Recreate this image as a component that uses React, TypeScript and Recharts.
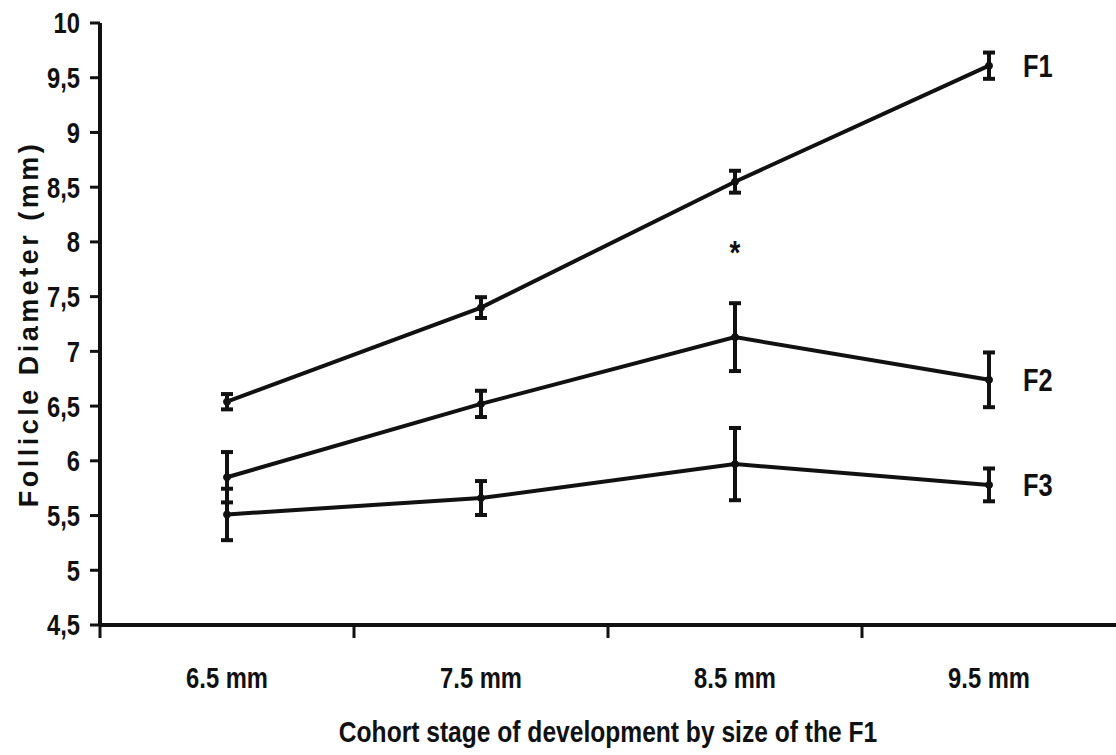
import React from 'react';
import { LineChart, Line, XAxis, YAxis, ErrorBar, ReferenceDot, Label } from 'recharts';

const categories = ['6.5 mm', '7.5 mm', '8.5 mm', '9.5 mm'];
const f1Values = [6.54, 7.4, 8.55, 9.61];
const f1Errors = [0.07, 0.095, 0.1, 0.12];
const f2Values = [5.85, 6.52, 7.13, 6.74];
const f2Errors = [0.23, 0.12, 0.31, 0.25];
const f3Values = [5.51, 5.66, 5.97, 5.78];
const f3Errors = [0.235, 0.155, 0.33, 0.15];
const seriesNames = ['F1', 'F2', 'F3'];
const yTicks = [4.5, 5, 5.5, 6, 6.5, 7, 7.5, 8, 8.5, 9, 9.5, 10];
const significanceCategory = '8.5 mm';
const significanceValue = 7.95;
const significanceMark = '*';
const xTitle = 'Cohort stage of development by size of the F1';
const yTitle = 'Follicle Diameter (mm)';

const data = categories.map((cat, i) => ({
  cat,
  f1: f1Values[i],
  f1e: f1Errors[i],
  f2: f2Values[i],
  f2e: f2Errors[i],
  f3: f3Values[i],
  f3e: f3Errors[i],
}));

const INK = '#111';
const FONT = "'Liberation Sans', Arial, sans-serif";
const NARROW_SCALE = 0.82;
const X_TICK_MARGIN = 42;
const BOUNDARY_TICK = 13;

const lastIdx = categories.length - 1;
const seriesLast = [f1Values[lastIdx], f2Values[lastIdx], f3Values[lastIdx]];

// narrow bold text drawn at an anchor point
function NarrowText({ x, y, anchor = 'start', dy = '0', size = 29, children }: any) {
  return (
    <g transform={`translate(${x}, ${y}) scale(${NARROW_SCALE}, 1)`}>
      <text x={0} y={0} dy={dy} textAnchor={anchor} fill={INK} fontSize={size} fontWeight={700} fontFamily={FONT}>
        {children}
      </text>
    </g>
  );
}

const YTick = (p: any) => (
  <NarrowText x={p.x} y={p.y} anchor="end" dy="0.36em" size={29}>
    {String(p.payload.value).replace('.', ',')}
  </NarrowText>
);

// category label at the band centre, plus a tick mark at the band's left boundary
const XTick = (p: any) => {
  const half = p.payload && typeof p.payload.offset === 'number' ? p.payload.offset : 0;
  const axisY = p.y - X_TICK_MARGIN;
  const left = p.x - half;
  return (
    <g>
      {half > 0 && (
        <line x1={left} x2={left} y1={axisY} y2={axisY + BOUNDARY_TICK} stroke={INK} strokeWidth={3} />
      )}
      <NarrowText x={p.x} y={p.y} anchor="middle" dy="0.71em" size={29}>
        {p.payload.value}
      </NarrowText>
    </g>
  );
};

export default function App() {
  return (
    <div style={{ position: 'absolute', left: 0, top: 0, background: '#fff' }}>
      <LineChart width={1116} height={755} data={data} margin={{ top: 23, right: 0, bottom: 129, left: 0 }}>
        <XAxis
          xAxisId="cat"
          dataKey="cat"
          type="category"
          scale="band"
          height={1}
          interval={0}
          tickLine={false}
          tickSize={0}
          tickMargin={X_TICK_MARGIN}
          axisLine={{ stroke: INK, strokeWidth: 4 }}
          tick={<XTick />}
        >
          <Label
            content={(p: any) => {
              const vb = p.viewBox;
              return (
                <NarrowText x={vb.x + vb.width / 2} y={vb.y + 117} anchor="middle" size={30}>
                  {xTitle}
                </NarrowText>
              );
            }}
          />
        </XAxis>
        <YAxis
          type="number"
          domain={[4.5, 10]}
          ticks={yTicks}
          interval={0}
          width={100}
          tickSize={10}
          tickMargin={10}
          axisLine={{ stroke: INK, strokeWidth: 4 }}
          tickLine={{ stroke: INK, strokeWidth: 3 }}
          tick={<YTick />}
        >
          <Label
            content={(p: any) => {
              const vb = p.viewBox;
              const cx = vb.x + 29;
              const cy = vb.y + vb.height / 2;
              return (
                <text
                  x={cx}
                  y={cy}
                  transform={`rotate(-90, ${cx}, ${cy})`}
                  textAnchor="middle"
                  dominantBaseline="central"
                  fill={INK}
                  fontSize={27}
                  fontWeight={700}
                  letterSpacing={3.5}
                  fontFamily={FONT}
                >
                  {yTitle}
                </text>
              );
            }}
          />
        </YAxis>
        {(['f1', 'f2', 'f3'] as const).map((k) => (
          <Line
            key={k}
            xAxisId="cat"
            dataKey={k}
            stroke={INK}
            strokeWidth={4}
            dot={{ r: 3.5, fill: INK, stroke: INK, strokeWidth: 1 }}
            activeDot={false}
            isAnimationActive={false}
          >
            <ErrorBar dataKey={`${k}e`} direction="y" width={6} strokeWidth={4} stroke={INK} />
          </Line>
        ))}
        {seriesNames.map((name, i) => (
          <ReferenceDot
            key={name}
            xAxisId="cat"
            x={categories[lastIdx]}
            y={seriesLast[i]}
            r={0}
            fill="none"
            stroke="none"
            label={(p: any) => {
              const vb = p.viewBox;
              return (
                <NarrowText x={vb.x + 34} y={vb.y} dy="0.36em" size={31}>
                  {name}
                </NarrowText>
              );
            }}
          />
        ))}
        <ReferenceDot
          xAxisId="cat"
          x={significanceCategory}
          y={significanceValue}
          r={0}
          fill="none"
          stroke="none"
          label={(p: any) => {
            const vb = p.viewBox;
            return (
              <NarrowText x={vb.x} y={vb.y + 17} anchor="middle" size={34}>
                {significanceMark}
              </NarrowText>
            );
          }}
        />
      </LineChart>
    </div>
  );
}
